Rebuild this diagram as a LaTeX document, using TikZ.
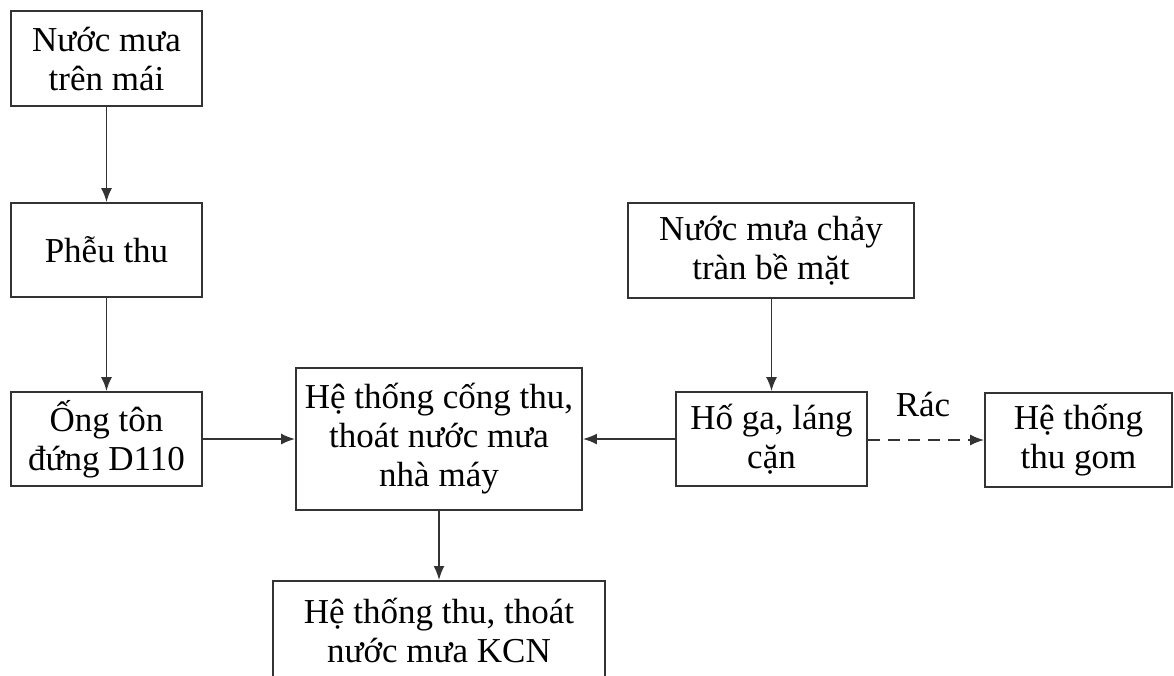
\documentclass[tikz,border=0pt]{standalone}
\usepackage{fontspec}
\setmainfont{Liberation Serif}
\usetikzlibrary{arrows.meta}
\begin{document}
\begin{tikzpicture}[x=1pt,y=-1pt,
  box/.style={draw=black!80, line width=1.9pt, fill=white, align=center,
    inner sep=0pt, font=\fontsize{35}{39}\selectfont},
  flow/.style={draw=black!80, line width=1.7pt, -{Latex[length=14pt,width=11pt]}},
  lbl/.style={font=\fontsize{35}{39}\selectfont}]
\useasboundingbox[fill=white] (0,0) rectangle (1174,675);
% boxes: centre, then size
\node[box, minimum width=191pt, minimum height=95pt] (roof) at (106.5,58.5) {Nước mưa\\trên mái};
\node[box, minimum width=191pt, minimum height=94pt] (funnel) at (106.5,250) {Phễu thu};
\node[box, minimum width=191pt, minimum height=94pt] (pipe) at (106.5,439) {Ống tôn\\đứng D110};
\node[box, minimum width=286pt, minimum height=142pt] (plant) at (439,439) {Hệ thống cống thu,\\thoát nước mưa\\nhà máy};
\node[box, minimum width=332pt, minimum height=100pt, anchor=north] (kcn) at (439,580) {Hệ thống thu, thoát\\nước mưa KCN};
\node[box, minimum width=286pt, minimum height=95pt] (surface) at (771,250.5) {Nước mưa chảy\\tràn bề mặt};
\node[box, minimum width=191pt, minimum height=94pt] (pit) at (771.5,439) {Hố ga, láng\\cặn};
\node[box, minimum width=187pt, minimum height=94pt] (collect) at (1078.5,440) {Hệ thống\\thu gom};
% connectors
\draw[flow] (roof) -- (funnel);
\draw[flow] (funnel) -- (pipe);
\draw[flow] (pipe) -- (plant);
\draw[flow] (pit) -- (plant);
\draw[flow] (surface.south -| pit.north) -- (pit);
\draw[flow] (plant) -- (kcn);
\draw[flow, dash pattern=on 12pt off 8pt] (pit.east |- collect.west) -- (collect.west);
\node[lbl] (trash) at (923,404) {Rác};
\end{tikzpicture}
\end{document}
